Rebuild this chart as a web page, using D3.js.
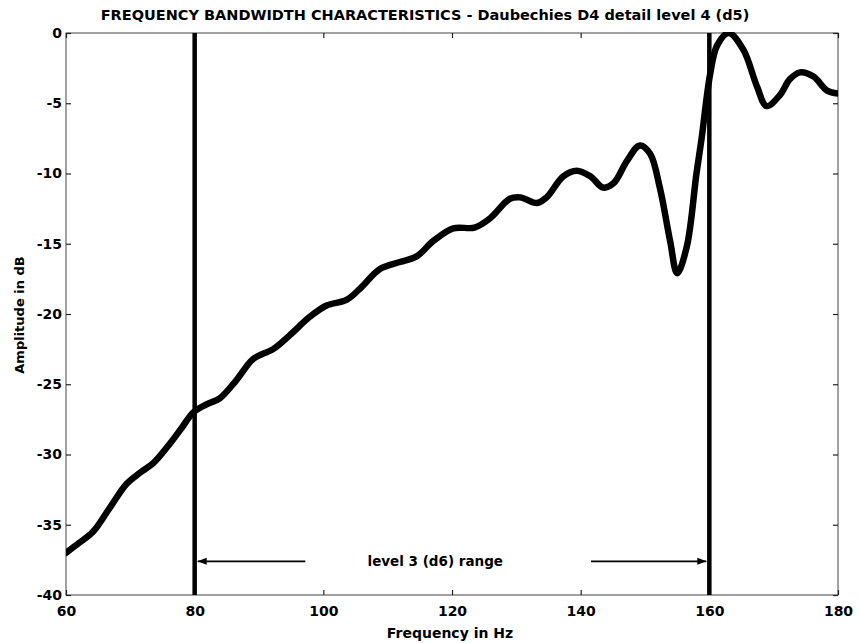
<!DOCTYPE html>
<html>
<head>
<meta charset="utf-8">
<script src="https://cdn.jsdelivr.net/npm/d3@7"></script>
<style>
  html, body { margin: 0; padding: 0; background: #fff; }
  svg { display: block; }
  text { font-family: "DejaVu Sans", "Liberation Sans", Arial, sans-serif; font-weight: bold; fill: #000; }
</style>
</head>
<body>
<svg id="chart" width="860" height="643"></svg>
<script>
// Frequency response of the Daubechies D4 level-4 detail filter (d5)
const freqHz = [60, 62, 64.2, 66.8, 69.4, 71.5, 73.6, 76.2, 78, 79.8, 82, 83.9, 86.5, 89.1, 92.2, 94.8,
  97.9, 100.5, 103.6, 105.7, 108.8, 111.9, 114.5, 117.1, 120.2, 123.5, 125.9, 129, 130.6, 133.2,
  134.7, 137.3, 139.4, 141.5, 143.5, 145.1, 147.2, 149.2, 150.8, 152.3, 153.9, 155, 156.5, 158,
  158.8, 160.1, 161.2, 163, 165.3, 167.4, 168.9, 171, 172.5, 174.1, 176.2, 178.3, 180];
const amplitudeDb = [-37.0, -36.3, -35.5, -33.8, -32.1, -31.3, -30.6, -29.2, -28.1, -27.0, -26.4, -26.0,
  -24.7, -23.2, -22.5, -21.5, -20.2, -19.4, -19.0, -18.2, -16.8, -16.3, -15.9, -14.8, -13.9, -13.85,
  -13.2, -11.8, -11.7, -12.1, -11.7, -10.2, -9.8, -10.2, -11.0, -10.7, -9.1, -8.0, -8.6, -11.0,
  -14.8, -17.1, -15.2, -10.0, -7.5, -3.0, -0.9, 0, -1.2, -3.8, -5.2, -4.4, -3.3, -2.8, -3.1, -4.1, -4.3];

const xTicks = [60, 80, 100, 120, 140, 160, 180];
const yTicks = [0, -5, -10, -15, -20, -25, -30, -35, -40];

// Band limits of the level 3 (d6) range and the annotation that spans them
const bandEdgesHz = [80, 160];
const rangeLabel = "level 3 (d6) range";
const rangeLevelDb = -37.6;
const rangeArrowStops = [97.2, 141.6];
const rangeLabelHz = 117.4;

const titleText = "FREQUENCY BANDWIDTH CHARACTERISTICS - Daubechies D4 detail level 4 (d5)";
const xLabelText = "Frequency in Hz";
const yLabelText = "Amplitude in dB";

const svg = d3.select("#chart");
const box = { left: 66, right: 838, top: 33, bottom: 595 };

const x = d3.scaleLinear().domain([60, 180]).range([box.left, box.right]);
const y = d3.scaleLinear().domain([-40, 0]).range([box.bottom, box.top]);

// Clip the response to the axes box
svg.append("defs").append("clipPath").attr("id", "plotClip")
  .append("rect").attr("x", box.left).attr("y", box.top - 1)
  .attr("width", box.right - box.left).attr("height", box.bottom - box.top + 2);

// Axes box
svg.append("rect")
  .attr("x", box.left).attr("y", box.top)
  .attr("width", box.right - box.left).attr("height", box.bottom - box.top)
  .attr("fill", "none").attr("stroke", "#444").attr("stroke-width", 1);

const fmt = d => String(d);

function styleAxis(g) {
  g.select(".domain").remove();
  g.selectAll(".tick line").attr("stroke", "#222").attr("stroke-width", 1.2);
  g.selectAll(".tick text").style("font-size", "14px").style("font-family", "'DejaVu Sans', sans-serif")
    .style("font-weight", "bold").attr("fill", "#000");
}

svg.append("g").attr("transform", `translate(${box.left},0)`)
  .call(d3.axisLeft(y).tickValues(yTicks).tickFormat(fmt).tickSizeInner(-5).tickSizeOuter(0).tickPadding(4))
  .call(styleAxis);
svg.append("g").attr("transform", `translate(${box.right},0)`)
  .call(d3.axisRight(y).tickValues(yTicks).tickFormat("").tickSizeInner(-5).tickSizeOuter(0))
  .call(styleAxis);
svg.append("g").attr("transform", `translate(0,${box.bottom})`)
  .call(d3.axisBottom(x).tickValues(xTicks).tickFormat(fmt).tickSizeInner(-5).tickSizeOuter(0).tickPadding(11))
  .call(styleAxis);
svg.append("g").attr("transform", `translate(0,${box.top})`)
  .call(d3.axisTop(x).tickValues(xTicks).tickFormat("").tickSizeInner(-5).tickSizeOuter(0))
  .call(styleAxis);

// Band edge markers
svg.append("g").selectAll("line").data(bandEdgesHz).join("line")
  .attr("x1", d => x(d)).attr("x2", d => x(d))
  .attr("y1", box.top).attr("y2", box.bottom)
  .attr("stroke", "#000").attr("stroke-width", 4.5);

// Response curve
const pts = freqHz.map((f, i) => [f, amplitudeDb[i]]);
const line = d3.line().x(d => x(d[0])).y(d => y(d[1])).curve(d3.curveCatmullRom.alpha(0.5));
svg.append("path").datum(pts)
  .attr("clip-path", "url(#plotClip)")
  .attr("d", line)
  .attr("fill", "none").attr("stroke", "#000")
  .attr("stroke-width", 6.5).attr("stroke-linejoin", "round").attr("stroke-linecap", "round");

// Range annotation with arrows pointing to the band edges
const ay = y(rangeLevelDb);
const ann = svg.append("g");
function arrow(fromHz, toHz) {
  const x0 = x(fromHz), x1 = x(toHz) + (toHz < fromHz ? 3 : -3);
  ann.append("line").attr("x1", x0).attr("x2", x1).attr("y1", ay).attr("y2", ay)
    .attr("stroke", "#000").attr("stroke-width", 1.8);
  const dir = toHz < fromHz ? 1 : -1;
  ann.append("path")
    .attr("d", `M${x1},${ay} L${x1 + dir * 9},${ay - 3.5} L${x1 + dir * 9},${ay + 3.5} Z`)
    .attr("fill", "#000");
}
arrow(rangeArrowStops[0], bandEdgesHz[0]);
arrow(rangeArrowStops[1], bandEdgesHz[1]);
ann.append("text").attr("x", x(rangeLabelHz)).attr("y", ay + 4.5)
  .attr("text-anchor", "middle").style("font-size", "13.5px").text(rangeLabel);

// Title and axis labels
svg.append("text").attr("x", 425).attr("y", 20).attr("text-anchor", "middle")
  .style("font-size", "14.5px").text(titleText);
svg.append("text").attr("x", 450).attr("y", 638).attr("text-anchor", "middle")
  .style("font-size", "14px").text(xLabelText);
svg.append("text").attr("transform", `translate(24,315) rotate(-90)`).attr("text-anchor", "middle")
  .style("font-size", "13px").text(yLabelText);
</script>
</body>
</html>
